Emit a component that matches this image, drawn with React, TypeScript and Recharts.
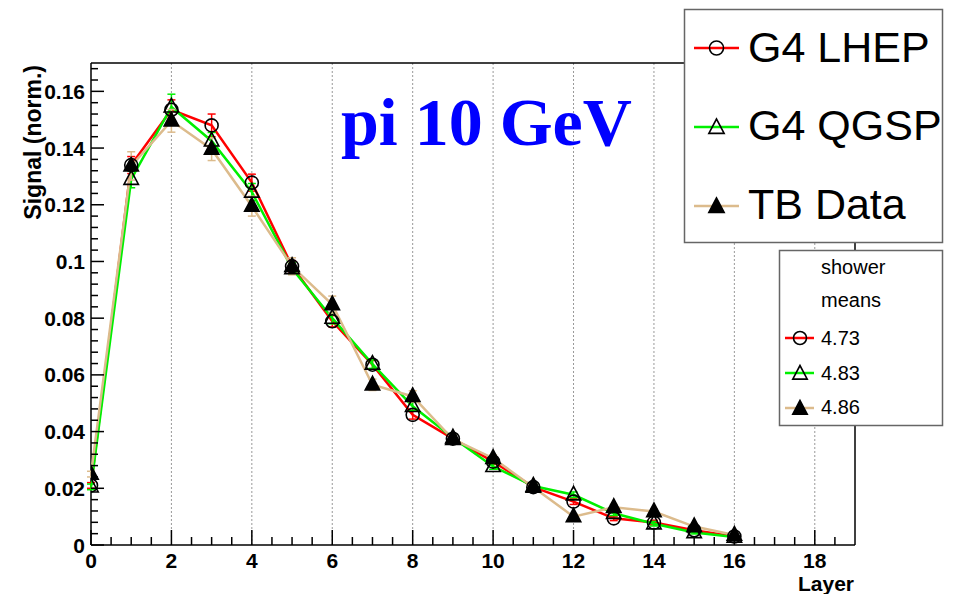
import React from 'react';
import { LineChart, Line, XAxis, YAxis, ReferenceLine, ErrorBar } from 'recharts';

const layers = [0, 1, 2, 3, 4, 5, 6, 7, 8, 9, 10, 11, 12, 13, 14, 15, 16];
const lhep = [0.021, 0.134, 0.1535, 0.148, 0.1278, 0.0983, 0.0789, 0.0636, 0.0459, 0.0375, 0.0294, 0.0204, 0.0153, 0.0094, 0.0079, 0.0052, 0.003];
const qgsp = [0.0205, 0.129, 0.1545, 0.1425, 0.1245, 0.0975, 0.08, 0.0638, 0.0489, 0.0378, 0.0277, 0.0208, 0.0177, 0.0112, 0.0075, 0.0044, 0.0028];
const tbData = [0.025, 0.1337, 0.1496, 0.1396, 0.1195, 0.0983, 0.0848, 0.0565, 0.0524, 0.0373, 0.0306, 0.0204, 0.01, 0.0133, 0.0118, 0.0065, 0.0035];
const lhepErr = [0.001, 0.003, 0.0035, 0.004, 0.003, 0.002, 0.002, 0.0015, 0.0015, 0.001, 0.001, 0.001, 0.001, 0.0008, 0.0008, 0.0005, 0.0005];
const qgspErr = [0.001, 0.003, 0.0045, 0.003, 0.003, 0.002, 0.002, 0.0015, 0.0015, 0.001, 0.001, 0.001, 0.001, 0.0008, 0.0008, 0.0005, 0.0005];
const tbErr = [0.001, 0.005, 0.004, 0.004, 0.0035, 0.003, 0.003, 0.002, 0.002, 0.0015, 0.0012, 0.001, 0.001, 0.001, 0.001, 0.0008, 0.0005];

const xMajorTicks = [0, 2, 4, 6, 8, 10, 12, 14, 16, 18];
const yMajorTicks = [0, 0.02, 0.04, 0.06, 0.08, 0.1, 0.12, 0.14, 0.16];
const yTickLabels = ['0', '0.02', '0.04', '0.06', '0.08', '0.1', '0.12', '0.14', '0.16'];
const legendLabels = ['G4 LHEP', 'G4 QGSP', 'TB Data'];
const showerMeans = ['4.73', '4.83', '4.86'];
const titleText = 'pi 10 GeV';

const RED = '#ff0000';
const GREEN = '#00f000';
const TAN = '#dcbb8c';
const FONT = '"Liberation Sans", Arial, Helvetica, sans-serif';

const data = layers.map((l, i) => ({
  layer: l,
  lhep: lhep[i],
  qgsp: qgsp[i],
  tb: tbData[i],
  lhepErr: lhepErr[i],
  qgspErr: qgspErr[i],
  tbErr: tbErr[i],
}));

const xTicks: number[] = [];
xMajorTicks.forEach((t) => {
  xTicks.push(t, t + 0.5, t + 1, t + 1.5);
});
xTicks.push(19);

const yTicks: number[] = [];
yMajorTicks.forEach((t) => {
  for (let k = 0; k < 5; k++) {
    const v = Math.round((t + k * 0.004) * 1000) / 1000;
    if (v <= 0.17) yTicks.push(v);
  }
});

const XTick = (props: any) => {
  const { x, y, payload } = props;
  const v = payload.value;
  const idx = xMajorTicks.indexOf(v);
  const isMajor = idx >= 0;
  if (v >= 19) return <g />;
  return (
    <g>
      <line x1={x} y1={y} x2={x} y2={y - (isMajor ? 15 : 8)} stroke="#000" strokeWidth={1.5} />
      {isMajor && (
        <text x={x} y={y + 23} textAnchor="middle" fontFamily={FONT} fontWeight="bold" fontSize={21} fill="#000">
          {String(v)}
        </text>
      )}
    </g>
  );
};

const YTick = (props: any) => {
  const { x, y, payload } = props;
  const v = payload.value;
  const idx = yMajorTicks.findIndex((t) => Math.abs(t - v) < 1e-9);
  const isMajor = idx >= 0;
  return (
    <g>
      <line x1={x} y1={y} x2={x + (isMajor ? 13 : 7)} y2={y} stroke="#000" strokeWidth={1.5} />
      {isMajor && (
        <text x={x - 6} y={y + 7.5} textAnchor="end" fontFamily={FONT} fontWeight="bold" fontSize={21} fill="#000">
          {yTickLabels[idx]}
        </text>
      )}
    </g>
  );
};

const circleMarker = (cx: number, cy: number, r: number, key?: string) => (
  <circle key={key} cx={cx} cy={cy} r={r} fill="none" stroke="#000" strokeWidth={1.6} />
);
const triMarker = (cx: number, cy: number, s: number, filled: boolean, key?: string) => (
  <polygon
    key={key}
    points={`${cx},${cy - s} ${cx - s * 0.85},${cy + s * 0.6} ${cx + s * 0.85},${cy + s * 0.6}`}
    fill={filled ? '#000' : 'none'}
    stroke="#000"
    strokeWidth={1.6}
  />
);

const CircleDot = (p: any) => circleMarker(p.cx, p.cy, 6.5, `c-${p.index}`);
const OpenTriDot = (p: any) => triMarker(p.cx, p.cy, 8.5, false, `o-${p.index}`);
const FilledTriDot = (p: any) => triMarker(p.cx, p.cy, 8.5, true, `f-${p.index}`);

const legendColors = [RED, GREEN, TAN];

export default function App() {
  return (
    <div style={{ position: 'relative', width: 954, height: 602, margin: -8, background: '#fff' }}>
      <LineChart width={954} height={602} data={data} margin={{ top: 63, right: 99, left: 0, bottom: 27 }}>
        <XAxis
          dataKey="layer"
          type="number"
          domain={[0, 19]}
          ticks={xTicks}
          interval={0}
          height={30}
          tickSize={0}
          tickMargin={0}
          tickLine={false}
          axisLine={false}
          tick={<XTick />}
          allowDataOverflow
        />
        <YAxis
          type="number"
          domain={[0, 0.17]}
          ticks={yTicks}
          interval={0}
          width={91}
          tickSize={0}
          tickMargin={0}
          tickLine={false}
          axisLine={false}
          tick={<YTick />}
          allowDataOverflow
        />
        {xMajorTicks.slice(1).map((t) => (
          <ReferenceLine key={`g-${t}`} x={t} stroke="#999" strokeDasharray="2 2" strokeWidth={1} />
        ))}
        <ReferenceLine y={0.17} stroke="#000" strokeWidth={1.5} />
        <ReferenceLine x={19} stroke="#000" strokeWidth={1.5} />
        <ReferenceLine y={0} stroke="#000" strokeWidth={1.5} />
        <ReferenceLine x={0} stroke="#000" strokeWidth={1.5} />
        <Line dataKey="lhep" stroke={RED} strokeWidth={2.5} dot={CircleDot} isAnimationActive={false} type="linear">
          <ErrorBar dataKey="lhepErr" direction="y" width={4} stroke={RED} strokeWidth={1.5} />
        </Line>
        <Line dataKey="qgsp" stroke={GREEN} strokeWidth={2.5} dot={OpenTriDot} isAnimationActive={false} type="linear">
          <ErrorBar dataKey="qgspErr" direction="y" width={4} stroke={GREEN} strokeWidth={1.5} />
        </Line>
        <Line dataKey="tb" stroke={TAN} strokeWidth={2.5} dot={FilledTriDot} isAnimationActive={false} type="linear">
          <ErrorBar dataKey="tbErr" direction="y" width={4} stroke={TAN} strokeWidth={1.5} />
        </Line>
      </LineChart>
      <svg width={954} height={602} style={{ position: 'absolute', left: 0, top: 0, pointerEvents: 'none' }}>
        <text x={341} y={145} fontFamily='"Liberation Serif", "Times New Roman", serif' fontWeight="bold" fontSize={68} fill="#0000ff">
          {titleText}
        </text>
        <text transform="translate(41,65) rotate(-90)" textAnchor="end" fontFamily={FONT} fontWeight="bold" fontSize={23} fill="#000">
          Signal (norm.)
        </text>
        <text x={854} y={591} textAnchor="end" fontFamily={FONT} fontWeight="bold" fontSize={21} fill="#000">
          Layer
        </text>

        <rect x={684.5} y={9.5} width={258} height={233} fill="#fff" stroke="#666" strokeWidth={1.5} />
        {legendLabels.map((lab, i) => {
          const ly = [48, 127, 206][i];
          const by = [62, 140, 219][i];
          return (
            <g key={lab}>
              <line x1={694} x2={739} y1={ly} y2={ly} stroke={legendColors[i]} strokeWidth={2.5} />
              {i === 0 && circleMarker(716.5, ly, 7)}
              {i === 1 && triMarker(716.5, ly + 1, 9, false)}
              {i === 2 && triMarker(716.5, ly + 1, 9, true)}
              <text x={748} y={by} fontFamily={FONT} fontSize={43} fill="#000">
                {lab}
              </text>
            </g>
          );
        })}

        <rect x={779.5} y={250.5} width={163} height={175} fill="#fff" stroke="#666" strokeWidth={1.5} />
        <text x={821} y={274} fontFamily={FONT} fontSize={20} fill="#000">shower</text>
        <text x={821} y={307} fontFamily={FONT} fontSize={20} fill="#000">means</text>
        {showerMeans.map((m, i) => {
          const ly = [338, 373, 408][i];
          const by = [345, 380, 414][i];
          return (
            <g key={m}>
              <line x1={785} x2={814} y1={ly} y2={ly} stroke={legendColors[i]} strokeWidth={2.5} />
              {i === 0 && circleMarker(800, ly, 6.5)}
              {i === 1 && triMarker(800, ly + 1, 8.5, false)}
              {i === 2 && triMarker(800, ly + 1, 8.5, true)}
              <text x={821} y={by} fontFamily={FONT} fontSize={20} fill="#000">
                {m}
              </text>
            </g>
          );
        })}
      </svg>
    </div>
  );
}
